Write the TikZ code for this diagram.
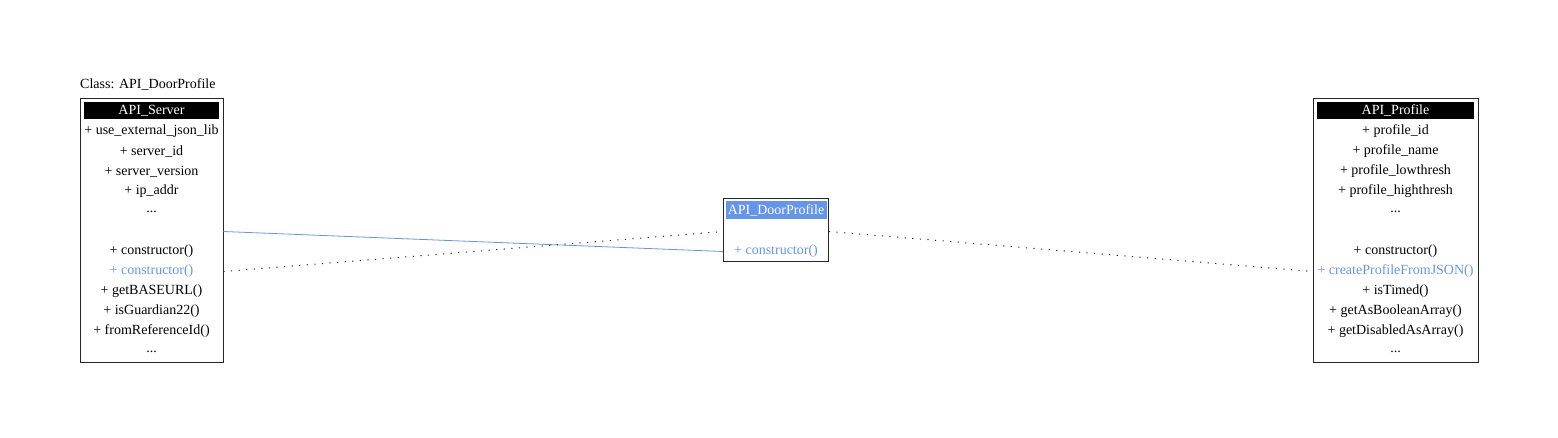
\documentclass[tikz,border=0pt]{standalone}
\usepackage{fontspec}
\setmainfont{Liberation Serif}
\definecolor{linkblue}{HTML}{6495ED}
\begin{document}
\begin{tikzpicture}[x=1pt,y=-1pt,font=\fontsize{14}{16}\selectfont,
	classbox/.style={draw=black!85, line width=0.8pt, inner sep=0pt},
	header/.style={inner sep=0pt, text=white},
	row/.style={inner sep=0pt},
	dots/.style={draw=black!85, line width=1pt, dash pattern=on 1.2pt off 6.4pt}]
	\useasboundingbox (0,0) rectangle (1558,438);
	\node (caption) at (80,84) [anchor=west, inner sep=0pt]	{Class: API\_DoorProfile};

	% API_Server
	\node (server) at (151.5,230) [classbox, minimum width=143, minimum height=264]	{};
	\node (serverHd) at (151.5,110.5) [header, fill=black, minimum width=135, minimum height=17]	{API\_Server};
	\foreach \txt/\col [count=\i] in {{+ use\_external\_json\_lib}/black, {+ server\_id}/black,
		{+ server\_version}/black, {+ ip\_addr}/black, {...}/black, {}/black,
		{+ constructor()}/black, {+ constructor()}/linkblue, {+ getBASEURL()}/black,
		{+ isGuardian22()}/black, {+ fromReferenceId()}/black, {...}/black}
		\node (server\i) at (151.5,111.5+20*\i) [row, text=\col]	{\txt};

	% API_DoorProfile
	\node (door) at (776,229.5) [classbox, minimum width=105, minimum height=63]	{};
	\node (doorHd) at (776,210) [header, fill=linkblue, minimum width=101, minimum height=18]	{API\_DoorProfile};
	\node (door1) at (776,231.5) [row]	{};
	\node (door2) at (776,251.5) [row, text=linkblue]	{+ constructor()};

	% API_Profile
	\node (profile) at (1395.5,230) [classbox, minimum width=165, minimum height=264]	{};
	\node (profileHd) at (1395.5,110.5) [header, fill=black, minimum width=157, minimum height=17]	{API\_Profile};
	\foreach \txt/\col [count=\i] in {{+ profile\_id}/black, {+ profile\_name}/black,
		{+ profile\_lowthresh}/black, {+ profile\_highthresh}/black, {...}/black, {}/black,
		{+ constructor()}/black, {+ createProfileFromJSON()}/linkblue, {+ isTimed()}/black,
		{+ getAsBooleanArray()}/black, {+ getDisabledAsArray()}/black, {...}/black}
		\node (profile\i) at (1395.5,111.5+20*\i) [row, text=\col]	{\txt};

	% links
	\draw[linkblue, line width=0.8pt] (server.east |- server6) -- (door.west |- door2);
	\draw[dots] (server.east |- server8) -- (door.west |- door1);
	\draw[dots] (door.east |- door1) -- (profile.west |- profile8);
\end{tikzpicture}
\end{document}
